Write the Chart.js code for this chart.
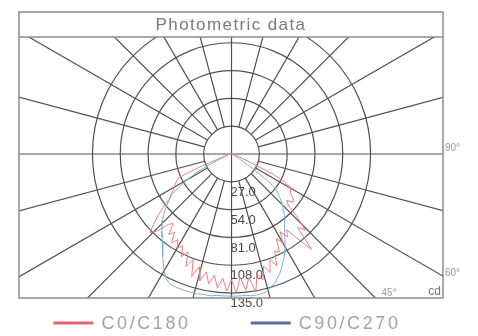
<!DOCTYPE html>
<html lang="en">
<head>
    <meta charset="UTF-8">
    <title>Photometric data</title>
    <script src="https://cdn.jsdelivr.net/npm/chart.js"></script>
    <style>
        body, html {
            margin: 0;
            padding: 0;
            background-color: #ffffff;
        }
        .chart-box {
            width: 478px;
            height: 336px;
        }
    </style>
</head>
<body>
    <div class="chart-box">
        <canvas id="photometricChart"></canvas>
    </div>
    <script>
        const chartTitle = 'Photometric data';
        const seriesLabels = ['C0/C180', 'C90/C270'];

        // gamma angle in degrees, 0 = straight down, negative = left half
        const gammaDeg = [
            -90, -88, -86, -84, -82, -80, -78, -76, -74, -72,
            -70, -68, -66, -64, -62, -60, -58, -56, -54, -52,
            -50, -48, -46, -44, -42, -40, -38, -36, -34, -32,
            -30, -28, -26, -24, -22, -20, -18, -16, -14, -12,
            -10, -8, -6, -4, -2, 0, 2, 4, 6, 8,
            10, 12, 14, 16, 18, 20, 22, 24, 26, 28,
            30, 32, 34, 36, 38, 40, 42, 44, 46, 48,
            50, 52, 54, 56, 58, 60, 62, 64, 66, 68,
            70, 72, 74, 76, 78, 80, 82, 84, 86, 88,
            90
        ];

        // intensity in cd
        const c0c180 = [
            0, 0, 1, 1, 2, 2, 3, 4, 5, 7,
            12, 30, 56, 59, 62, 64, 67, 71, 75, 84,
            93, 102, 110, 104, 92, 88, 99, 94, 104, 98,
            106, 101, 111, 104, 118, 109, 125, 114, 127, 117,
            128, 119, 131, 121, 133, 122, 135, 120, 133, 121,
            136, 119, 126, 113, 121, 109, 117, 103, 106, 93,
            100, 89, 97, 91, 105, 121, 96, 103, 90, 74,
            70, 76, 74, 69, 68, 66, 58, 45, 20, 10,
            8, 6, 5, 4, 3, 2, 2, 1, 1, 0,
            0
        ];

        const c90c270 = [
            0, 0, 0, 1, 1, 1, 2, 2, 3, 4,
            6, 8, 14, 24, 38, 50, 58, 70, 74, 79,
            84, 89, 93, 97, 101, 105, 109, 114, 119, 125,
            131, 136, 139, 140, 140, 140, 140, 140, 140, 139,
            139, 139, 138, 138, 138, 138, 138, 138, 138, 139,
            139, 139, 138, 135, 133, 129, 125, 120, 115, 110,
            104, 98, 92, 88, 84, 80, 76, 72, 68, 63,
            59, 55, 40, 20, 9, 5, 3, 2, 2, 1,
            1, 1, 0, 0, 0, 0, 0, 0, 0, 0,
            0
        ];

        const ringValues = [27, 54, 81, 108, 135];
        const spokeAngles = [0, 15, 30, 45, 60, 75, 90, 105, 120, 135, 150, 165,
                             180, 195, 210, 225, 240, 255, 270, 285, 300, 315, 330, 345];
        const sideLabels = ['90°', '60°', '45°', 'cd'];

        const xMin = -206.3, xMax = 205.3;
        const yMin = -139.8, yMax = 113.6;

        const lineColors = ['#e98085', '#7eaedb'];
        const legendColors = ['#e2646f', '#566f98'];
        const gridColor = '#505050';
        const frameColor = '#8c8c8c';

        function toPoints(angles, values) {
            return angles.map((g, i) => {
                const rad = g * Math.PI / 180;
                return { x: values[i] * Math.sin(rad), y: -values[i] * Math.cos(rad) };
            });
        }

        const polarGrid = {
            id: 'polarGrid',
            beforeDatasetsDraw(chart) {
                const { ctx, chartArea: a, scales: { x, y } } = chart;
                const cx = x.getPixelForValue(0);
                const cy = y.getPixelForValue(0);
                ctx.save();
                ctx.beginPath();
                ctx.rect(a.left, a.top, a.width, a.height);
                ctx.clip();
                ctx.strokeStyle = gridColor;
                ctx.lineWidth = 1.2;
                ringValues.forEach(r => {
                    const rx = x.getPixelForValue(r) - cx;
                    const ry = cy - y.getPixelForValue(r);
                    ctx.beginPath();
                    ctx.ellipse(cx, cy, rx, ry, 0, 0, 2 * Math.PI);
                    ctx.stroke();
                });
                spokeAngles.forEach(g => {
                    const rad = g * Math.PI / 180;
                    const r0 = g % 90 === 0 ? 0 : ringValues[0];
                    ctx.beginPath();
                    ctx.moveTo(x.getPixelForValue(r0 * Math.sin(rad)), y.getPixelForValue(-r0 * Math.cos(rad)));
                    ctx.lineTo(x.getPixelForValue(500 * Math.sin(rad)), y.getPixelForValue(-500 * Math.cos(rad)));
                    ctx.stroke();
                });
                ctx.restore();

                // ring values down the vertical axis
                ctx.save();
                ctx.font = '13px "Liberation Sans", Arial, sans-serif';
                ctx.fillStyle = '#4a4a4a';
                ctx.textAlign = 'left';
                ctx.textBaseline = 'top';
                ringValues.forEach(r => {
                    ctx.fillText(r.toFixed(1), cx - 1, y.getPixelForValue(-r) + 4);
                });
                ctx.restore();
            },
            afterDraw(chart) {
                const { ctx, chartArea: a, scales: { x, y } } = chart;
                const cx = x.getPixelForValue(0);
                const cy = y.getPixelForValue(0);
                ctx.save();
                ctx.strokeStyle = frameColor;
                ctx.lineWidth = 1.5;
                ctx.strokeRect(a.left, 12, a.width, a.bottom - 12);
                ctx.beginPath();
                ctx.moveTo(a.left, a.top);
                ctx.lineTo(a.right, a.top);
                ctx.stroke();

                // title band
                ctx.font = '17px "Liberation Sans", Arial, sans-serif';
                ctx.letterSpacing = '1.4px';
                ctx.fillStyle = '#7a7a7a';
                ctx.textAlign = 'center';
                ctx.textBaseline = 'middle';
                ctx.fillText(chartTitle, (a.left + a.right) / 2, (12 + a.top) / 2 + 1);

                // angle marks at the frame
                ctx.letterSpacing = '0px';
                ctx.font = '10px "Liberation Sans", Arial, sans-serif';
                ctx.fillStyle = '#9a9a9a';
                ctx.textAlign = 'left';
                ctx.fillText(sideLabels[0], a.right + 2, cy - 6);
                const y60 = cy + (a.right - cx) / Math.tan(Math.PI / 3);
                ctx.fillText(sideLabels[1], a.right + 2, y60 - 3);
                const x45 = cx + (a.bottom - cy);
                ctx.fillText(sideLabels[2], x45 + 6, a.bottom - 5);
                ctx.font = '12px "Liberation Sans", Arial, sans-serif';
                ctx.fillStyle = '#707070';
                ctx.textAlign = 'right';
                ctx.fillText(sideLabels[3], a.right - 2, a.bottom - 6);

                // legend
                ctx.font = '18px "Liberation Sans", Arial, sans-serif';
                ctx.letterSpacing = '2.6px';
                ctx.textAlign = 'left';
                const sets = chart.data.datasets;
                const widths = sets.map(d => 48 + ctx.measureText(d.label).width);
                const gap = 60;
                let lx = (a.left + a.right) / 2 - 4 - (widths[0] + gap + widths[1]) / 2;
                const ly = 323;
                sets.forEach((d, i) => {
                    ctx.fillStyle = legendColors[i];
                    ctx.fillRect(lx, ly - 1.5, 40, 3);
                    ctx.fillStyle = '#a3a3a3';
                    ctx.fillText(d.label, lx + 48, ly + 1);
                    lx += widths[i] + gap;
                });
                ctx.restore();
            }
        };

        new Chart(document.getElementById('photometricChart'), {
            type: 'scatter',
            data: {
                datasets: [
                    {
                        label: seriesLabels[0],
                        data: toPoints(gammaDeg, c0c180),
                        showLine: true,
                        borderColor: lineColors[0],
                        backgroundColor: legendColors[0],
                        borderWidth: 1,
                        pointRadius: 0
                    },
                    {
                        label: seriesLabels[1],
                        data: toPoints(gammaDeg, c90c270),
                        showLine: true,
                        borderColor: lineColors[1],
                        backgroundColor: legendColors[1],
                        borderWidth: 1,
                        pointRadius: 0
                    }
                ]
            },
            options: {
                responsive: true,
                maintainAspectRatio: false,
                animation: false,
                layout: { padding: { left: 19, right: 35, top: 37, bottom: 38 } },
                scales: {
                    x: { type: 'linear', min: xMin, max: xMax, display: false },
                    y: { type: 'linear', min: yMin, max: yMax, display: false }
                },
                plugins: {
                    legend: { display: false },
                    tooltip: { enabled: false }
                }
            },
            plugins: [polarGrid]
        });
    </script>
</body>
</html>
